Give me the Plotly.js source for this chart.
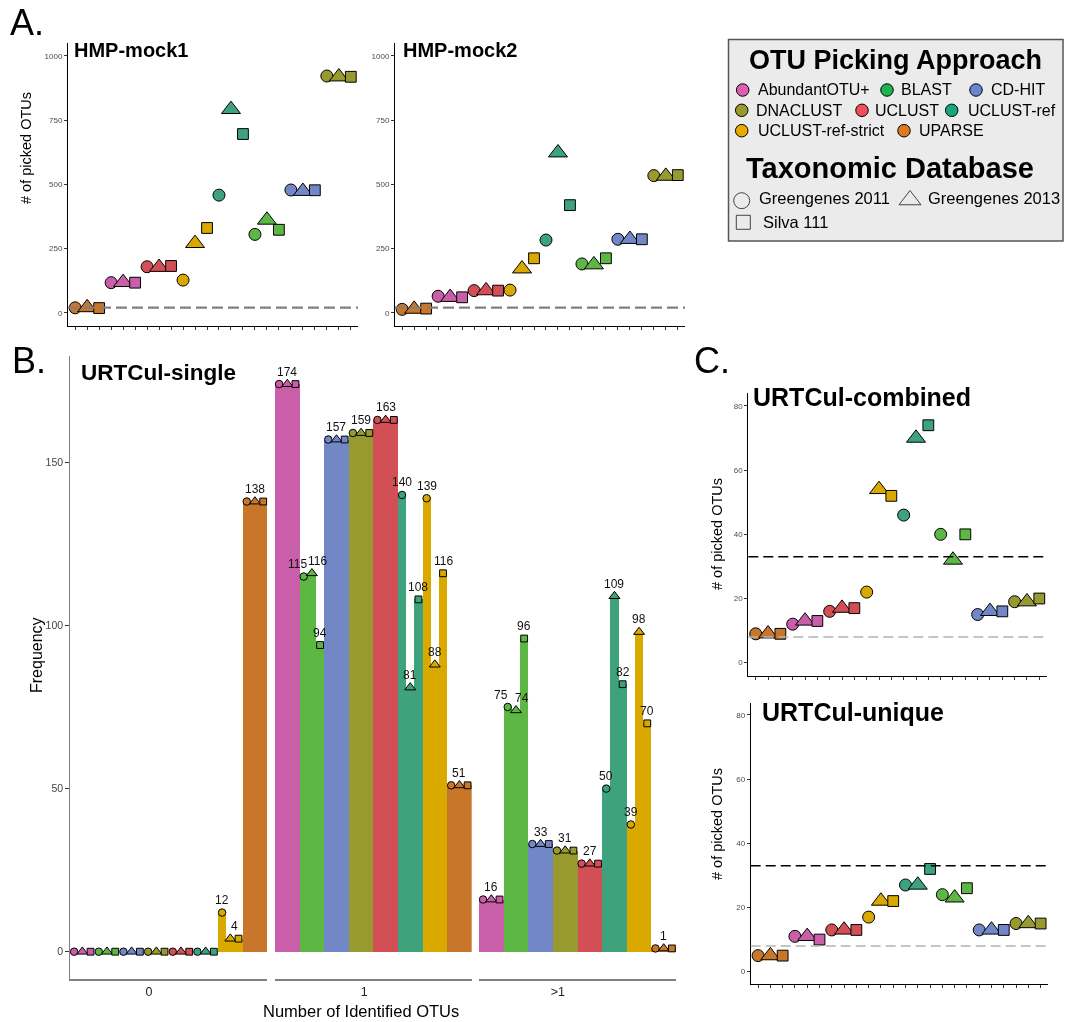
<!DOCTYPE html>
<html>
<head>
<meta charset="utf-8">
<script src="https://cdn.plot.ly/plotly-3.0.1.min.js"></script>
<style>
  html, body { margin: 0; padding: 0; background: #ffffff; }
  #fig { width: 1066px; height: 1022px; will-change: transform; }
</style>
</head>
<body>
<div id="fig"></div>
<script>
// ---- data -------------------------------------------------------------
// OTU picking approaches and the taxonomic reference databases
const approaches = ['AbundantOTU+', 'BLAST', 'CD-HIT', 'DNACLUST', 'UCLUST', 'UCLUST-ref', 'UCLUST-ref-strict', 'UPARSE'];
const databases = ['Greengenes 2011', 'Greengenes 2013', 'Silva 111'];

// order of the approaches along the x axis of the point panels
const pointOrder = ['UPARSE', 'AbundantOTU+', 'UCLUST', 'UCLUST-ref-strict', 'UCLUST-ref', 'BLAST', 'CD-HIT', 'DNACLUST'];

// number of picked OTUs; rows follow pointOrder, columns follow databases
const hmpMock1 = [[19, 20, 18], [117, 118, 117], [179, 177, 182], [127, 270, 330], [458, 792, 696], [305, 361, 323], [478, 473, 477], [922, 919, 919]];
const hmpMock2 = [[13, 14, 16], [64, 60, 60], [86, 86, 86], [88, 171, 212], [283, 623, 419], [190, 187, 212], [286, 286, 286], [534, 532, 536]];
const urtCombined = [[9, 9, 9], [12, 13, 13], [16, 17, 17], [22, 54, 52], [46, 70, 74], [40, 32, 40], [15, 16, 16], [19, 19, 20]];
const urtUnique = [[5, 5, 5], [11, 11, 10], [13, 13, 13], [17, 22, 22], [27, 27, 32], [24, 23, 26], [13, 13, 13], [15, 15, 15]];

// expected number of OTUs in each sample set
const mockExpected = 20;
const urtExpectedHigh = 33;
const urtExpectedLow = 8;

// URTCul-single: frequency by number of identified OTUs; rows follow approaches, columns follow databases
const identifiedBins = ['0', '1', '>1'];
const singleZero = [[0, 0, 0], [0, 0, 0], [0, 0, 0], [0, 0, 0], [0, 0, 0], [0, 0, 0], [12, 4, 4], [138, 138, 138]];
const singleOne = [[174, 174, 174], [115, 116, 94], [157, 157, 157], [159, 159, 159], [163, 163, 163], [140, 81, 108], [139, 88, 116], [51, 51, 51]];
const singleMulti = [[16, 16, 16], [75, 74, 96], [33, 33, 33], [31, 31, 31], [27, 27, 27], [50, 109, 82], [39, 98, 70], [1, 1, 1]];

// ---- styles -----------------------------------------------------------
const fill = {
  'AbundantOTU+': '#C95FA9', 'BLAST': '#5DB843', 'CD-HIT': '#7287C5', 'DNACLUST': '#989A30',
  'UCLUST': '#D24F55', 'UCLUST-ref': '#3EA37D', 'UCLUST-ref-strict': '#D9A900', 'UPARSE': '#C8772A'
};
const keyFill = {
  'AbundantOTU+': '#DD5FB4', 'BLAST': '#1DB44F', 'CD-HIT': '#6A86CC', 'DNACLUST': '#9A9A2C',
  'UCLUST': '#EE4F58', 'UCLUST-ref': '#17A57E', 'UCLUST-ref-strict': '#EBAA00', 'UPARSE': '#DF7A22'
};
const symbols = ['circle', 'triangle-up', 'square'];
const bigSizes = [12, 16.5, 10.8];
const smallSizes = [7.5, 9.5, 6.8];
const FONT = 'Liberation Sans, Arial, Helvetica, sans-serif';

const W = 1066, H = 1022;
const xd = (a, b) => [a / W, b / W];
const yd = (top, bottom) => [1 - bottom / H, 1 - top / H];
const px = v => v / W;
const py = v => 1 - v / H;

// ---- traces -----------------------------------------------------------
const traces = [];

function pointTraces(values, xa, ya) {
  databases.forEach((db, d) => {
    traces.push({
      type: 'scatter', mode: 'markers', xaxis: xa, yaxis: ya, showlegend: false, hoverinfo: 'skip',
      x: pointOrder.map((a, i) => i * 3 + d + 1),
      y: values.map(row => row[d]),
      marker: {
        symbol: symbols[d], size: bigSizes[d],
        color: pointOrder.map(a => fill[a]),
        line: { color: '#000000', width: 1 }
      }
    });
  });
}
pointTraces(hmpMock1, 'x', 'y');
pointTraces(hmpMock2, 'x2', 'y2');
pointTraces(urtCombined, 'x6', 'y6');
pointTraces(urtUnique, 'x7', 'y7');

// bars and markers of the URTCul-single facets
const facetValues = [singleZero, singleOne, singleMulti];
const facetAxes = ['x3', 'x4', 'x5'];
const annotations = [];

facetValues.forEach((vals, f) => {
  const xa = facetAxes[f];
  const bx = [], by = [], bc = [];
  approaches.forEach((a, i) => vals[i].forEach((v, d) => { bx.push(i * 3 + d); by.push(v); bc.push(fill[a]); }));
  traces.push({
    type: 'bar', xaxis: xa, yaxis: 'y3', x: bx, y: by, width: 1, showlegend: false, hoverinfo: 'skip',
    marker: { color: bc, line: { width: 0 } }
  });
  databases.forEach((db, d) => {
    traces.push({
      type: 'scatter', mode: 'markers', xaxis: xa, yaxis: 'y3', showlegend: false, hoverinfo: 'skip', cliponaxis: false,
      x: approaches.map((a, i) => i * 3 + d),
      y: vals.map(row => row[d]),
      marker: {
        symbol: symbols[d], size: smallSizes[d],
        color: approaches.map(a => fill[a]),
        line: { color: '#000000', width: 1 }
      }
    });
  });
  // value labels: one label per distinct non-zero value, centred over the bars sharing it;
  // neighbouring labels of nearly equal height are pushed apart
  approaches.forEach((a, i) => {
    const groups = [];
    vals[i].forEach((v, d) => {
      const g = groups.find(gr => gr.v === v);
      if (g) g.idx.push(d); else groups.push({ v, idx: [d] });
    });
    const shown = groups.filter(g => g.v !== 0);
    shown.forEach((g, k) => {
      const pos = g.idx.reduce((s, t) => s + t, 0) / g.idx.length;
      let shift = 0;
      const prev = shown[k - 1], next = shown[k + 1];
      if (next && Math.abs(next.v - g.v) < 6) shift = -6.5;
      if (prev && Math.abs(prev.v - g.v) < 6) shift = 6;
      annotations.push({
        xref: xa, yref: 'y3', x: i * 3 + pos, y: g.v, text: String(g.v), showarrow: false,
        xanchor: 'center', yanchor: 'bottom', yshift: 3.5, xshift: shift,
        font: { family: FONT, size: 12, color: '#111111' }
      });
    });
  });
});

// legend keys, drawn on a pixel-scaled overlay axis
const keyPos = {
  'AbundantOTU+': [742.7, 90, 756], 'BLAST': [887, 90, 898.7], 'CD-HIT': [976, 90, 989],
  'DNACLUST': [741.7, 110.3, 754.3], 'UCLUST': [862, 110.3, 873], 'UCLUST-ref': [951.7, 110.3, 966],
  'UCLUST-ref-strict': [741.7, 130.7, 756], 'UPARSE': [904, 130.7, 917.3]
};
traces.push({
  type: 'scatter', mode: 'markers', xaxis: 'x8', yaxis: 'y8', showlegend: false, hoverinfo: 'skip', cliponaxis: false,
  x: approaches.map(a => keyPos[a][0]), y: approaches.map(a => keyPos[a][1]),
  marker: { symbol: 'circle', size: 12.5, color: approaches.map(a => keyFill[a]), line: { color: '#000000', width: 1 } }
});
const dbKeyPos = [[741.7, 200.7, 757.3, 198], [910, 200, 925.7, 197.7], [743.3, 222.3, 760.7, 222]];
traces.push({
  type: 'scatter', mode: 'markers', xaxis: 'x8', yaxis: 'y8', showlegend: false, hoverinfo: 'skip', cliponaxis: false,
  x: dbKeyPos.map(p => p[0]), y: dbKeyPos.map(p => p[1]),
  marker: { symbol: ['circle-open', 'triangle-up-open', 'square-open'], size: [16, 19, 14], color: '#000000', line: { width: 1 } }
});

// ---- text ------------------------------------------------------------
function label(text, x, y, size, opts) {
  annotations.push(Object.assign({
    xref: 'paper', yref: 'paper', x: px(x), y: py(y), text, showarrow: false,
    xanchor: 'left', yanchor: 'middle', font: { family: FONT, size, color: '#000000' }
  }, opts || {}));
}
// panel letters
label('A.', 8, 22, 36);
label('B.', 10, 361, 36);
label('C.', 692, 361, 36);
// panel titles
label('<b>HMP-mock1</b>', 72, 50, 20);
label('<b>HMP-mock2</b>', 401, 50, 20);
label('<b>URTCul-single</b>', 79, 372, 22.5);
label('<b>URTCul-combined</b>', 751, 397, 25);
label('<b>URTCul-unique</b>', 760, 712, 25);
// axis titles
label('# of picked OTUs', 26, 148, 14.5, { xanchor: 'center', textangle: -90 });
label('# of picked OTUs', 717, 534, 14.5, { xanchor: 'center', textangle: -90 });
label('# of picked OTUs', 717, 824, 14.5, { xanchor: 'center', textangle: -90 });
label('Frequency', 36, 655, 16, { xanchor: 'center', textangle: -90 });
label('Number of Identified OTUs', 361, 1011, 16.5, { xanchor: 'center' });
// legend
label('<b>OTU Picking Approach</b>', 895.5, 60, 27, { xanchor: 'center' });
label('<b>Taxonomic Database</b>', 889.5, 168, 29, { xanchor: 'center' });
approaches.forEach(a => label(a, keyPos[a][2], keyPos[a][1], 16));
databases.forEach((db, d) => label(db, dbKeyPos[d][2], dbKeyPos[d][3], 16.5));

// ---- axes ------------------------------------------------------------
const pointTicks = pointOrder.flatMap((a, i) => databases.map((db, d) => i * 3 + d + 1));
function pointX(dom, anchor) {
  return {
    domain: dom, anchor, range: [0.4, 24.6], showline: true, linecolor: '#000000', linewidth: 1,
    ticks: 'outside', ticklen: 3, tickwidth: 1, tickcolor: '#333333', tickvals: pointTicks,
    showticklabels: false, showgrid: false, zeroline: false, fixedrange: true
  };
}
function pointY(dom, anchor, range, tickvals) {
  return {
    domain: dom, anchor, range, showline: true, linecolor: '#000000', linewidth: 1,
    ticks: 'outside', ticklen: 3, tickwidth: 1, tickcolor: '#333333', tickvals,
    tickfont: { family: FONT, size: 8, color: '#4d4d4d' }, showgrid: false, zeroline: false, fixedrange: true
  };
}
function facetX(dom, bin, tickPos) {
  return {
    domain: dom, anchor: 'y3', range: [-0.5, 23.5], showline: true, linecolor: '#808080', linewidth: 1.3,
    ticks: '', tickvals: [tickPos], ticktext: [bin], tickfont: { family: FONT, size: 12.5, color: '#222222' },
    showgrid: false, zeroline: false, fixedrange: true
  };
}

const layout = {
  width: W, height: H, margin: { l: 0, r: 0, t: 0, b: 0 },
  paper_bgcolor: '#ffffff', plot_bgcolor: 'rgba(0,0,0,0)', showlegend: false,
  font: { family: FONT },
  barmode: 'overlay', bargap: 0,
  xaxis: pointX(xd(68, 358), 'y'),
  yaxis: pointY(yd(43, 326), 'x', [-51.8, 1050.6], [0, 250, 500, 750, 1000]),
  xaxis2: pointX(xd(395, 685), 'y2'),
  yaxis2: pointY(yd(43, 326), 'x2', [-51.8, 1050.6], [0, 250, 500, 750, 1000]),
  xaxis3: facetX(xd(70, 267.3), identifiedBins[0], 9.1),
  xaxis4: facetX(xd(275, 471.7), identifiedBins[1], 10.4),
  xaxis5: facetX(xd(479, 676), identifiedBins[2], 9.1),
  yaxis3: {
    domain: yd(356, 979.3), anchor: 'x3', range: [-8.46, 182.6], showline: true, linecolor: '#808080', linewidth: 1.3,
    ticks: 'outside', ticklen: 3.5, tickwidth: 1, tickcolor: '#333333', tickvals: [0, 50, 100, 150],
    tickfont: { family: FONT, size: 10.5, color: '#444444' }, showgrid: false, zeroline: false, fixedrange: true
  },
  xaxis6: pointX(xd(748.3, 1046.7), 'y6'),
  yaxis6: pointY(yd(393, 676), 'x6', [-4.15, 84.05], [0, 20, 40, 60, 80]),
  xaxis7: pointX(xd(750.7, 1048), 'y7'),
  yaxis7: pointY(yd(703, 984.3), 'x7', [-3.93, 83.7], [0, 20, 40, 60, 80]),
  xaxis8: { domain: [0, 1], anchor: 'y8', range: [0, W], visible: false, fixedrange: true },
  yaxis8: { domain: [0, 1], anchor: 'x8', range: [H, 0], visible: false, fixedrange: true },
  annotations,
  shapes: [
    // legend panel
    { type: 'rect', xref: 'paper', yref: 'paper', x0: px(728.5), x1: px(1063), y0: py(39.5), y1: py(241),
      fillcolor: '#ebebeb', line: { color: '#555555', width: 1.5 }, layer: 'below' },
    // expected OTU counts
    { type: 'line', xref: 'x domain', yref: 'y', x0: 0, x1: 1, y0: mockExpected, y1: mockExpected,
      line: { color: '#808080', width: 2.2, dash: '11px,5px' } },
    { type: 'line', xref: 'x2 domain', yref: 'y2', x0: 0, x1: 1, y0: mockExpected, y1: mockExpected,
      line: { color: '#808080', width: 2.2, dash: '11px,5px' } },
    { type: 'line', xref: 'x6 domain', yref: 'y6', x0: 0, x1: 1, y0: urtExpectedHigh, y1: urtExpectedHigh,
      line: { color: '#000000', width: 1.4, dash: '10px,5px' } },
    { type: 'line', xref: 'x6 domain', yref: 'y6', x0: 0, x1: 1, y0: urtExpectedLow, y1: urtExpectedLow,
      line: { color: '#b3b3b3', width: 1.4, dash: '10px,5px' } },
    { type: 'line', xref: 'x7 domain', yref: 'y7', x0: 0, x1: 1, y0: urtExpectedHigh, y1: urtExpectedHigh,
      line: { color: '#000000', width: 1.4, dash: '10px,5px' } },
    { type: 'line', xref: 'x7 domain', yref: 'y7', x0: 0, x1: 1, y0: urtExpectedLow, y1: urtExpectedLow,
      line: { color: '#b3b3b3', width: 1.4, dash: '10px,5px' } }
  ]
};

Plotly.newPlot('fig', traces, layout, { displayModeBar: false, staticPlot: true });
</script>
</body>
</html>
